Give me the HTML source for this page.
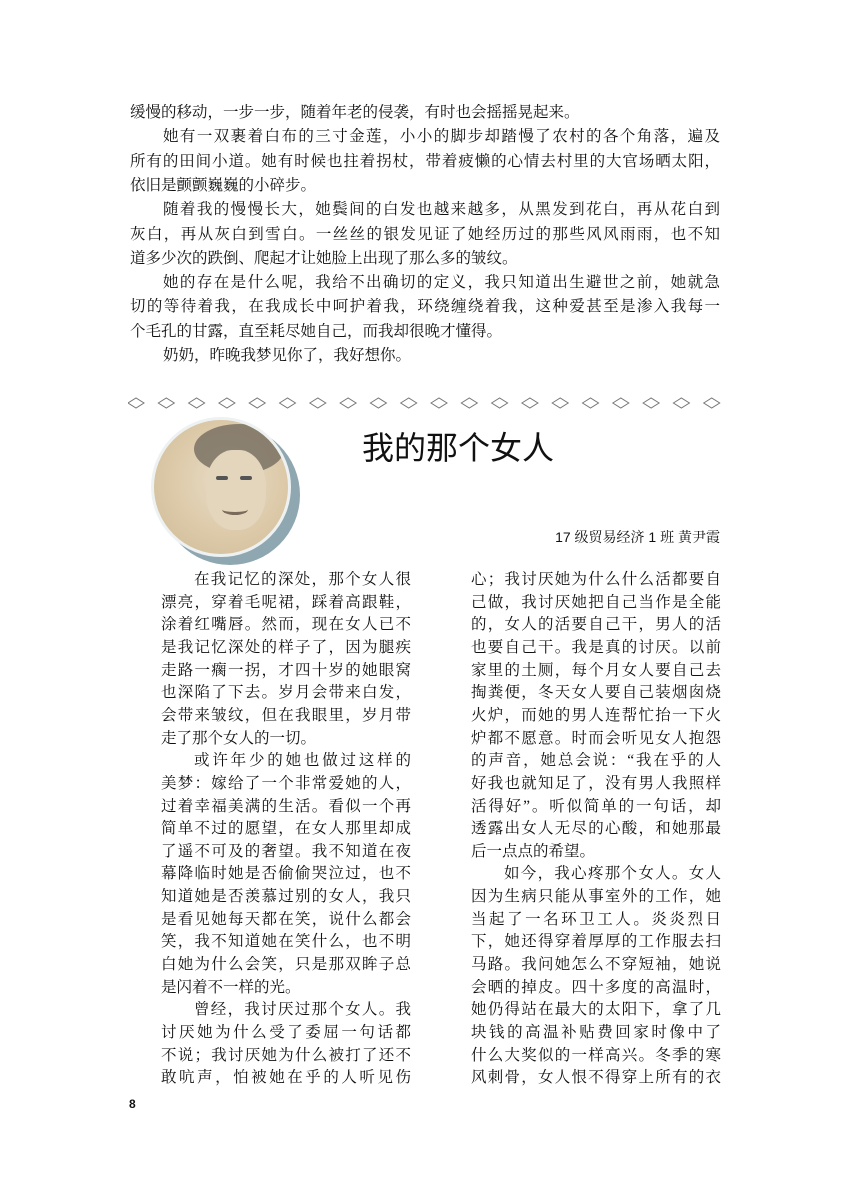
<!DOCTYPE html>
<html><head><meta charset="utf-8">
<style>
body{margin:0;background:#fff;}
#page{position:relative;width:848px;height:1200px;overflow:hidden;background:#fff;font-family:"Liberation Serif","Noto Serif CJK SC",serif;color:#111;}
.ln{position:absolute;height:22px;line-height:22px;white-space:nowrap;font-size:15.5px;}
.j{text-align:justify;text-align-last:justify;}
.ind{padding-left:33px;box-sizing:border-box;}
</style></head>
<body>
<div id="page">
<div id="top"></div>
<div id="colL"></div>
<div id="colR"></div>

<svg style="position:absolute;left:128px;top:395px" width="600" height="18">
<g id="dia"></g></svg>

<div style="position:absolute;left:160px;top:425px;width:140px;height:140px;border-radius:50%;background:#8fa7b0;"></div>
<div style="position:absolute;left:151px;top:417px;width:140px;height:140px;border-radius:50%;background:radial-gradient(circle at 55% 45%,#e8dcc6 0%,#dcc9a8 55%,#cdb994 100%);border:3px solid #eef1f2;box-sizing:border-box;overflow:hidden;">
 <div style="position:absolute;left:40px;top:4px;width:90px;height:50px;border-radius:50%;background:#6e665a;opacity:.75"></div>
 <div style="position:absolute;left:52px;top:30px;width:60px;height:80px;border-radius:45%;background:#e4d6bd;"></div>
 <div style="position:absolute;left:62px;top:56px;width:12px;height:4px;background:#555;border-radius:2px"></div>
 <div style="position:absolute;left:86px;top:56px;width:12px;height:4px;background:#555;border-radius:2px"></div>
 <div style="position:absolute;left:68px;top:84px;width:26px;height:8px;border-bottom:3px solid #7a6a5a;border-radius:50%"></div>
</div>

<div style="position:absolute;left:362px;top:428px;font-family:'Liberation Sans','Noto Sans CJK SC',sans-serif;font-size:32px;line-height:40px;color:#111;">我的那个女人</div>
<div style="position:absolute;right:128px;top:527px;font-size:14px;line-height:20px;font-family:'Liberation Sans','Noto Serif CJK SC',serif;">17 级贸易经济 1 班 黄尹霞</div>
<div style="position:absolute;left:129px;top:1097px;font-family:'Liberation Sans',sans-serif;font-weight:bold;font-size:12px;">8</div>
</div>
<script>
const topLines=[
["缓慢的移动，一步一步，随着年老的侵袭，有时也会摇摇晃起来。",0,0],
["她有一双裹着白布的三寸金莲，小小的脚步却踏慢了农村的各个角落，遍及",1,1],
["所有的田间小道。她有时候也拄着拐杖，带着疲懒的心情去村里的大官场晒太阳，",0,1],
["依旧是颤颤巍巍的小碎步。",0,0],
["随着我的慢慢长大，她鬓间的白发也越来越多，从黑发到花白，再从花白到",1,1],
["灰白，再从灰白到雪白。一丝丝的银发见证了她经历过的那些风风雨雨，也不知",0,1],
["道多少次的跌倒、爬起才让她脸上出现了那么多的皱纹。",0,0],
["她的存在是什么呢，我给不出确切的定义，我只知道出生避世之前，她就急",1,1],
["切的等待着我，在我成长中呵护着我，环绕缠绕着我，这种爱甚至是渗入我每一",0,1],
["个毛孔的甘露，直至耗尽她自己，而我却很晚才懂得。",0,0],
["奶奶，昨晚我梦见你了，我好想你。",1,0]];
const leftLines=[
["在我记忆的深处，那个女人很",1,1],["漂亮，穿着毛呢裙，踩着高跟鞋，",0,1],["涂着红嘴唇。然而，现在女人已不",0,1],["是我记忆深处的样子了，因为腿疾",0,1],["走路一瘸一拐，才四十岁的她眼窝",0,1],["也深陷了下去。岁月会带来白发，",0,1],["会带来皱纹，但在我眼里，岁月带",0,1],["走了那个女人的一切。",0,0],
["或许年少的她也做过这样的",1,1],["美梦：嫁给了一个非常爱她的人，",0,1],["过着幸福美满的生活。看似一个再",0,1],["简单不过的愿望，在女人那里却成",0,1],["了遥不可及的奢望。我不知道在夜",0,1],["幕降临时她是否偷偷哭泣过，也不",0,1],["知道她是否羡慕过别的女人，我只",0,1],["是看见她每天都在笑，说什么都会",0,1],["笑，我不知道她在笑什么，也不明",0,1],["白她为什么会笑，只是那双眸子总",0,1],["是闪着不一样的光。",0,0],
["曾经，我讨厌过那个女人。我",1,1],["讨厌她为什么受了委屈一句话都",0,1],["不说；我讨厌她为什么被打了还不",0,1],["敢吭声，怕被她在乎的人听见伤",0,1]];
const rightLines=[
["心；我讨厌她为什么什么活都要自",0,1],["己做，我讨厌她把自己当作是全能",0,1],["的，女人的活要自己干，男人的活",0,1],["也要自己干。我是真的讨厌。以前",0,1],["家里的土厕，每个月女人要自己去",0,1],["掏粪便，冬天女人要自己装烟囱烧",0,1],["火炉，而她的男人连帮忙抬一下火",0,1],["炉都不愿意。时而会听见女人抱怨",0,1],["的声音，她总会说：“我在乎的人",0,1],["好我也就知足了，没有男人我照样",0,1],["活得好”。听似简单的一句话，却",0,1],["透露出女人无尽的心酸，和她那最",0,1],["后一点点的希望。",0,0],
["如今，我心疼那个女人。女人",1,1],["因为生病只能从事室外的工作，她",0,1],["当起了一名环卫工人。炎炎烈日",0,1],["下，她还得穿着厚厚的工作服去扫",0,1],["马路。我问她怎么不穿短袖，她说",0,1],["会晒的掉皮。四十多度的高温时，",0,1],["她仍得站在最大的太阳下，拿了几",0,1],["块钱的高温补贴费回家时像中了",0,1],["什么大奖似的一样高兴。冬季的寒",0,1],["风刺骨，女人恨不得穿上所有的衣",0,1]];
function put(container,lines,x,y0,lh,w,name){
 const c=document.getElementById(container);
 lines.forEach((l,i)=>{
  const d=document.createElement('div');
  
  
  d.className='ln'+(l[2]?' j':'')+(l[1]?' ind':'');
  d.style.left=x+'px';d.style.top=(y0+i*lh)+'px';d.style.width=w+'px';
  d.textContent=l[0];c.appendChild(d);
 });
}
put('top',topLines,130,102,24.3,590,'text-line');
put('colL',leftLines,161,569,22.65,250,'text-line');
put('colR',rightLines,471,569,22.65,250,'text-line');
const g=document.getElementById('dia');
for(let i=0;i<20;i++){
 const cx=8+i*30.3;
 const p=document.createElementNS('http://www.w3.org/2000/svg','path');
 
 
 p.setAttribute('d',`M${cx-8} 8 L${cx} 3 L${cx+8} 8 L${cx} 13 Z`);
 p.setAttribute('fill','#fff');p.setAttribute('stroke','#777');p.setAttribute('stroke-width','1');
 g.appendChild(p);
}
</script>
</body></html>
